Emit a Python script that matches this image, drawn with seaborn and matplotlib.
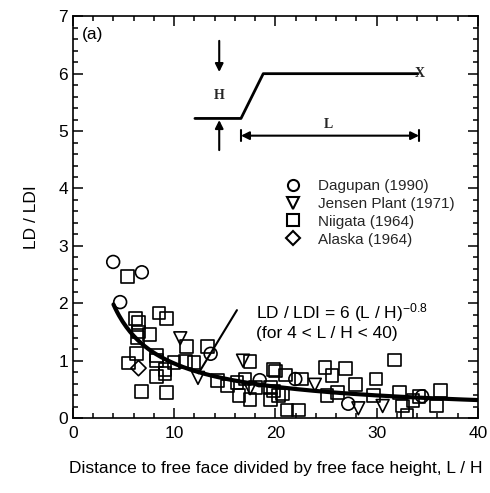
import numpy as np
import pandas as pd
import matplotlib
matplotlib.use("Agg")
import matplotlib.pyplot as plt
import seaborn as sns
from matplotlib.lines import Line2D
from matplotlib.ticker import MultipleLocator

# ---------------- data ----------------
dagupan_x = [3.97, 6.8, 4.66, 13.6, 18.45, 21.97, 27.2, 34.5]
dagupan_y = [2.72, 2.54, 2.02, 1.12, 0.66, 0.68, 0.25, 0.38]

jensen_x = [10.6, 12.35, 16.8, 17.5, 23.9, 28.2, 30.6]
jensen_y = [1.39, 0.70, 1.00, 0.52, 0.58, 0.17, 0.21]

niigata_x = [5.39, 6.2, 6.47, 6.47, 6.37, 7.59, 8.5, 9.23, 6.27, 5.45, 8.28, 8.28,
             9.1, 8.28, 9.1, 6.8, 9.23, 11.2, 13.3, 9.98, 11.13, 11.95, 17.5, 14.25,
             15.3, 16.2, 17.0, 16.4, 17.5, 18.0, 19.5, 19.8, 19.5, 20.3, 20.0, 21.0,
             22.6, 19.8, 20.7, 21.15, 22.3, 24.9, 25.6, 26.9, 25.1, 26.1, 27.9, 29.95,
             29.7, 31.8, 32.3, 32.6, 33.0, 34.2, 36.3, 35.9, 33.6]
niigata_y = [2.47, 1.73, 1.67, 1.50, 1.40, 1.46, 1.83, 1.73, 1.12, 0.96, 1.09, 1.00,
             0.85, 0.72, 0.78, 0.46, 0.44, 1.25, 1.25, 0.97, 0.98, 0.97, 0.99, 0.65,
             0.56, 0.62, 0.68, 0.40, 0.33, 0.53, 0.53, 0.85, 0.33, 0.39, 0.82, 0.75,
             0.68, 0.47, 0.42, 0.14, 0.14, 0.88, 0.74, 0.87, 0.39, 0.44, 0.59, 0.68,
             0.40, 1.01, 0.44, 0.21, 0.05, 0.37, 0.48, 0.21, 0.30]

alaska_x = [6.47]
alaska_y = [0.87]

series_names = ["Dagupan (1990)", "Jensen Plant (1971)", "Niigata (1964)", "Alaska (1964)"]
series_markers = ["o", "v", "s", "D"]

fit_coef = 6.0
fit_exp = -0.8
fit_range = [4, 40]

x_ticks = [0, 10, 20, 30, 40]
y_ticks = [0, 1, 2, 3, 4, 5, 6, 7]

# ---------------- style ----------------
sns.set_theme(style="ticks")
plt.rcParams["font.family"] = ["Liberation Sans", "DejaVu Sans"]
plt.rcParams["mathtext.fontset"] = "custom"
plt.rcParams["mathtext.rm"] = "Liberation Sans"
plt.rcParams["mathtext.it"] = "Liberation Sans:italic"
plt.rcParams["mathtext.bf"] = "Liberation Sans:bold"

fig = plt.figure(figsize=(4.9, 4.93), dpi=100)
ax = fig.add_axes([0.149, 0.152, 0.826, 0.815])

frames = []
for name, xs, ys in zip(series_names,
                        [dagupan_x, jensen_x, niigata_x, alaska_x],
                        [dagupan_y, jensen_y, niigata_y, alaska_y]):
    frames.append(pd.DataFrame({"L_H": xs, "LD_LDI": ys, "site": name}))
df = pd.concat(frames, ignore_index=True)

for name, mk in zip(series_names, series_markers):
    sub = df[df["site"] == name]
    sns.scatterplot(data=sub, x="L_H", y="LD_LDI", marker=mk, s=85 if mk != "D" else 60,
                    color="black", linewidth=1.2, ax=ax, legend=False, zorder=3)
for coll in ax.collections:
    coll.set_facecolor("none")
    coll.set_edgecolor("black")

xc = np.linspace(fit_range[0], fit_range[1], 200)
fit_df = pd.DataFrame({"L_H": xc, "LD_LDI": fit_coef * xc ** fit_exp})
sns.lineplot(data=fit_df, x="L_H", y="LD_LDI", color="black", linewidth=3, ax=ax, zorder=4)

ax.set_xlim(0, 40)
ax.set_ylim(0, 7)
ax.set_xticks(x_ticks)
ax.set_yticks(y_ticks)
ax.xaxis.set_minor_locator(MultipleLocator(2))
ax.yaxis.set_minor_locator(MultipleLocator(0.2))
ax.tick_params(which="both", direction="in", top=True, right=True, labelsize=12.5,
               color="black", labelcolor="black", width=1.1)
ax.tick_params(which="major", length=7)
ax.tick_params(which="minor", length=3.5)
ax.tick_params(axis="x", pad=6)
for sp in ax.spines.values():
    sp.set_linewidth(1.2)
    sp.set_color("black")

ax.set_xlabel("Distance to free face divided by free face height, L / H", fontsize=12.5,
              color="black", labelpad=14)
ax.set_ylabel("LD / LDI", fontsize=12.5, color="black", labelpad=14)

# legend
handles = [Line2D([], [], marker=m, linestyle="none", markerfacecolor="none",
                  markeredgecolor="black", markeredgewidth=1.5,
                  markersize=8 if m != "D" else 7) for m in series_markers]
ax.legend(handles, series_names, loc="upper left", bbox_to_anchor=(0.50, 0.61),
          frameon=False, fontsize=11, handletextpad=0.9, labelspacing=0.25,
          handlelength=1.5, borderaxespad=0)

# formula annotation
ax.text(18.1, 1.84, r"LD / LDI = 6 (L / H)$^{\mathregular{-0.8}}$", fontsize=12.5,
        ha="left", va="center", color="black")
ax.text(18.1, 1.47, "(for 4 < L / H < 40)", fontsize=12.5, ha="left", va="center",
        color="black")
ax.plot([16.2, 12.4], [1.88, 0.78], color="black", linewidth=1.5, zorder=5)

ax.text(0.9, 6.68, "(a)", fontsize=12.5, ha="left", va="center", color="black")

# slope sketch
serif = dict(family=["Liberation Serif", "DejaVu Serif"], weight="bold", fontsize=10)
ax.plot([12.05, 16.6, 18.8, 34.1], [5.22, 5.22, 6.0, 6.0], color="black", linewidth=2)
ax.text(34.3, 6.0, "X", ha="center", va="center", **serif)
ax.annotate("", xy=(14.45, 5.98), xytext=(14.45, 6.62),
            arrowprops=dict(arrowstyle="-|>", color="black", lw=1.5, mutation_scale=12))
ax.annotate("", xy=(14.45, 5.24), xytext=(14.45, 4.62),
            arrowprops=dict(arrowstyle="-|>", color="black", lw=1.5, mutation_scale=12))
ax.text(14.45, 5.62, "H", ha="center", va="center", **serif)
ax.annotate("", xy=(16.6, 4.92), xytext=(34.2, 4.92),
            arrowprops=dict(arrowstyle="<|-|>", color="black", lw=1.5, mutation_scale=12,
                            shrinkA=0, shrinkB=0))
ax.plot([16.6, 16.6], [4.82, 5.02], color="black", linewidth=1.5)
ax.plot([34.2, 34.2], [4.82, 5.02], color="black", linewidth=1.5)
ax.text(25.2, 5.12, "L", ha="center", va="center", **serif)

fig.savefig("out.png", dpi=100)
